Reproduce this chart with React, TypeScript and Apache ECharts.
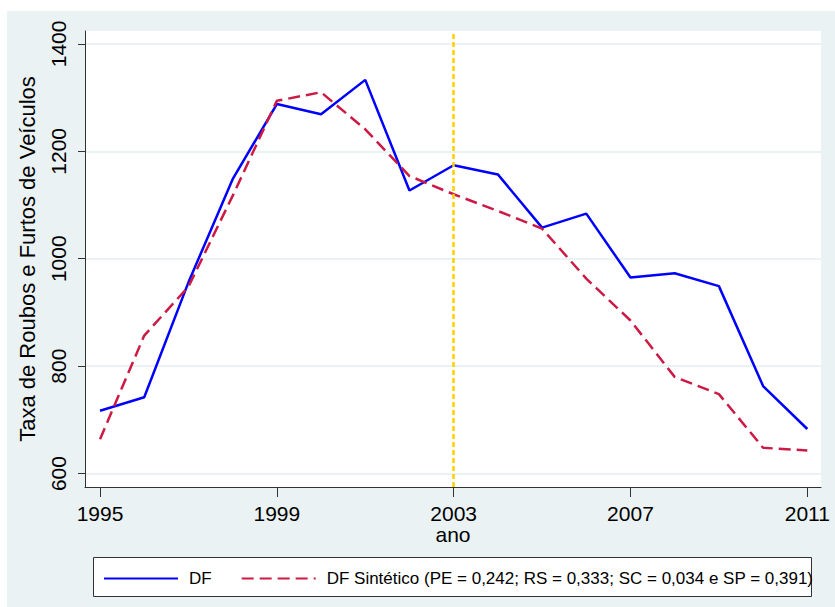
import React, { useEffect, useRef } from "react";
import * as echarts from "echarts";

const years = [1995, 1996, 1997, 1998, 1999, 2000, 2001, 2002, 2003, 2004, 2005, 2006, 2007, 2008, 2009, 2010, 2011];
const dfValues = [717, 742, 956, 1148, 1288, 1269, 1333, 1127, 1174, 1157, 1058, 1084, 965, 973, 949, 763, 683];
const synthValues = [664, 857, 948, 1117, 1294, 1310, 1241, 1154, 1120, 1089, 1056, 963, 885, 780, 748, 648, 643];
const xTicks = [1995, 1999, 2003, 2007, 2011];
const yTicks = [600, 800, 1000, 1200, 1400];
const treatmentYear = 2003;
const seriesNames = ["DF", "DF Sintético (PE = 0,242; RS = 0,333; SC = 0,034 e SP = 0,391)"];

const FONT = "'Liberation Sans', Arial, sans-serif";

export default function App() {
  const ref = useRef<HTMLDivElement>(null);
  useEffect(() => {
    if (!ref.current) return;
    const chart = echarts.init(ref.current, null, { renderer: "svg" });
    const toPairs = (vals: number[]) => years.map((y, i) => [y, vals[i]]);
    chart.setOption({
      animation: false,
      textStyle: { fontFamily: FONT },
      graphic: [
        {
          type: "rect",
          z: -10,
          shape: { x: 7, y: 11, width: 835 - 7, height: 607 - 11 },
          style: { fill: "#eaf2f3" },
          silent: true,
        },
        {
          type: "rect",
          z: 3,
          shape: { x: 93.5, y: 557.5, width: 718, height: 39 },
          style: { fill: "#ffffff", stroke: "#333333", lineWidth: 1 },
          silent: true,
        },
      ],
      grid: {
        left: 85,
        top: 31,
        right: 14,
        bottom: 120,
        show: true,
        backgroundColor: "#ffffff",
        borderWidth: 0,
      },
      legend: {
        left: 103,
        top: 570,
        padding: 0,
        itemWidth: 74,
        itemHeight: 14,
        itemGap: 29,
        itemStyle: { opacity: 0 },
        textStyle: { fontSize: 17, color: "#000", fontFamily: FONT, padding: [0, 0, 0, 6] },
        data: seriesNames,
      },
      xAxis: {
        type: "value",
        min: 1994.66,
        max: 2011.31,
        name: "ano",
        nameLocation: "middle",
        nameGap: 37,
        nameMoveOverlap: false,
        nameTextStyle: { fontSize: 21, lineHeight: 21, color: "#000", fontFamily: FONT },
        axisLine: { show: true, lineStyle: { color: "#333", width: 1 } },
        axisTick: { show: true, customValues: xTicks, length: 10, lineStyle: { color: "#333" } },
        axisLabel: { customValues: xTicks, fontSize: 21, lineHeight: 21, color: "#000", margin: 16, fontFamily: FONT, formatter: (v: number) => String(v) },
        splitLine: { show: false },
      },
      yAxis: {
        type: "value",
        min: 575,
        max: 1424,
        name: "Taxa de Roubos e Furtos de Veículos",
        nameLocation: "middle",
        nameGap: 47,
        nameMoveOverlap: false,
        nameTextStyle: { fontSize: 22, color: "#000", fontFamily: FONT },
        axisLine: { show: true, lineStyle: { color: "#333", width: 1 } },
        axisTick: { show: true, customValues: yTicks, length: 7, lineStyle: { color: "#333" } },
        axisLabel: { customValues: yTicks, fontSize: 21, color: "#000", rotate: 90, margin: 16, fontFamily: FONT, formatter: (v: number) => String(v) },
        splitLine: { show: true, lineStyle: { color: "#eaf2f3", width: 2 } },
      },
      series: [
        {
          name: seriesNames[0],
          type: "line",
          data: toPairs(dfValues),
          symbol: "none",
          lineStyle: { color: "#0000ff", width: 2.5 },
          itemStyle: { color: "#0000ff" },
          markLine: {
            silent: true,
            symbol: ["none", "none"],
            label: { show: false },
            lineStyle: { color: "#ffd000", type: [5, 3], width: 2.5 },
            data: [{ xAxis: treatmentYear }],
          },
        },
        {
          name: seriesNames[1],
          type: "line",
          data: toPairs(synthValues),
          symbol: "none",
          lineStyle: { color: "#cc1a44", width: 2.5, type: [12, 6] },
          itemStyle: { color: "#cc1a44" },
        },
      ],
    });
    return () => chart.dispose();
  }, []);
  return <div ref={ref} style={{ position: "absolute", left: 0, top: 0, width: 835, height: 607 }} />;
}
